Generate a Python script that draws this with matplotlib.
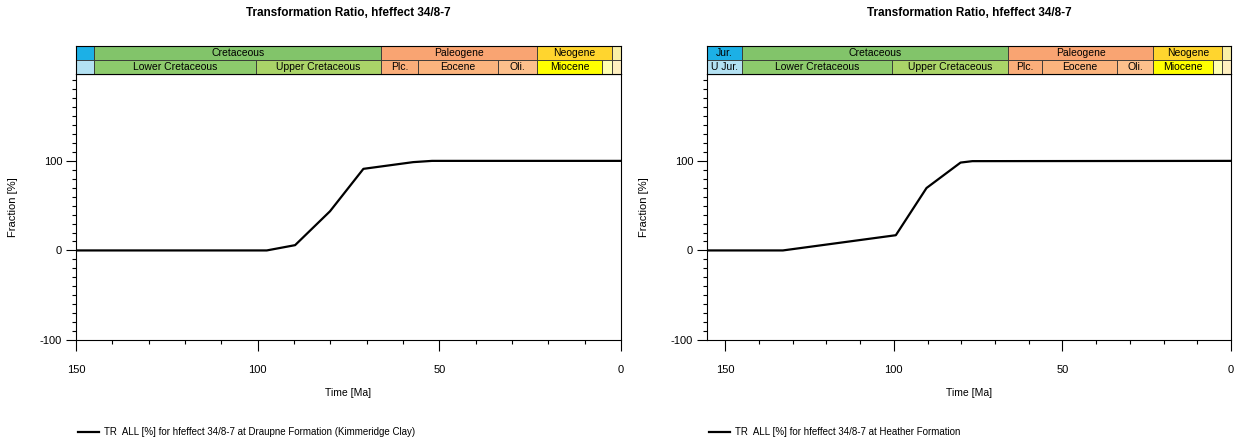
import matplotlib
matplotlib.use("Agg")
import matplotlib.pyplot as plt
from matplotlib.ticker import MultipleLocator, FixedLocator

plt.rcParams['font.family'] = ['Liberation Sans', 'DejaVu Sans']
plt.rcParams['axes.unicode_minus'] = False

# curve data (age in Ma, transformation ratio in %)
left_age = [150, 97.5, 89.7, 80.1, 70.9, 57.2, 52, 0]
left_tr = [0, 0, 5.9, 43.7, 91.1, 98.6, 100, 100]
right_age = [155, 132.9, 99.4, 90.3, 80.2, 76.7, 0]
right_tr = [0, 0, 17, 69.7, 98.1, 99.7, 100]

left_label = "TR  ALL [%] for hfeffect 34/8-7 at Draupne Formation (Kimmeridge Clay)"
right_label = "TR  ALL [%] for hfeffect 34/8-7 at Heather Formation"
title = "Transformation Ratio, hfeffect 34/8-7"

# geological time scale: (name, short name, start, end, color)
periods = [
    ("Jurassic", "Jur.", 201.3, 145.0, "#1CB0E6"),
    ("Cretaceous", "Cretaceous", 145.0, 66.0, "#82C46A"),
    ("Paleogene", "Paleogene", 66.0, 23.03, "#F9A472"),
    ("Neogene", "Neogene", 23.03, 2.58, "#FFD52E"),
    ("Quaternary", "", 2.58, 0.0, "#F9F0A8"),
]
epochs = [
    ("Upper Jurassic", "U Jur.", 163.5, 145.0, "#B3E1F2"),
    ("Lower Cretaceous", "Lower Cretaceous", 145.0, 100.5, "#8DCB6C"),
    ("Upper Cretaceous", "Upper Cretaceous", 100.5, 66.0, "#AAD468"),
    ("Paleocene", "Plc.", 66.0, 56.0, "#FBAE7A"),
    ("Eocene", "Eocene", 56.0, 33.9, "#FBB47E"),
    ("Oligocene", "Oli.", 33.9, 23.03, "#FDC08C"),
    ("Miocene", "Miocene", 23.03, 5.333, "#FFFF00"),
    ("Pliocene", "", 5.333, 2.58, "#FFFFB0"),
    ("Pleistocene", "", 2.58, 0.0, "#FFF0C0"),
]

W, H = 1236, 442
fig = plt.figure(figsize=(W / 100, H / 100), dpi=100)


def make_panel(x0, x1, xmax, age, tr, label, ylab_x):
    top, bot = 74, 340
    ax = fig.add_axes([x0 / W, 1 - bot / H, (x1 - x0) / W, (bot - top) / H])
    ax.plot(age, tr, color="black", lw=1.6, label=label)
    ax.set_xlim(xmax, 0)
    ax.set_ylim(-100, 197)
    ax.xaxis.set_major_locator(FixedLocator([150, 100, 50, 0]))
    ax.xaxis.set_minor_locator(MultipleLocator(10))
    ax.yaxis.set_major_locator(FixedLocator([-100, 0, 100]))
    ax.yaxis.set_minor_locator(MultipleLocator(10))
    ax.tick_params(axis='x', which='major', length=8, width=0.8, pad=10, labelsize=8)
    ax.tick_params(axis='x', which='minor', length=3, width=0.8)
    ax.tick_params(axis='y', which='major', length=7, width=0.8, pad=3, labelsize=8)
    ax.tick_params(axis='y', which='minor', length=3, width=0.8)
    for s in ax.spines.values():
        s.set_linewidth(0.8)
    ax.set_xlabel("Time [Ma]", fontsize=7.5)
    ax.xaxis.set_label_coords(0.5, -0.18)
    ax.set_ylabel("Fraction [%]", fontsize=8)
    ax.yaxis.set_label_coords(ylab_x, 0.5)
    ax.legend(loc="center left", bbox_to_anchor=(0.003, -0.346), frameon=False,
              fontsize=7, handlelength=2.2, borderaxespad=0, borderpad=0,
              handletextpad=0.5)
    fig.text((x0 + x1) / 2 / W, 1 - 13 / H, title, ha="center", va="center",
             fontsize=8.5, fontweight="bold")

    # time scale band
    ts = fig.add_axes([x0 / W, 1 - top / H, (x1 - x0) / W, 28 / H])
    ts.set_xlim(xmax, 0)
    ts.set_ylim(0, 2)
    ts.set_xticks([])
    ts.set_yticks([])
    for s in ts.spines.values():
        s.set_linewidth(0.8)
    for row, items in ((1, periods), (0, epochs)):
        for name, short, start, end, color in items:
            ts.barh(row + 0.5, start - end, left=end, height=1.0, color=color,
                    edgecolor="#333333", linewidth=0.6)
            vis_start = min(start, xmax)
            if vis_start - end >= 8 and short:
                ts.text((vis_start + end) / 2, row + 0.5, short, ha="center",
                        va="center", fontsize=7.5)
    return ax


make_panel(76, 621, 150, left_age, left_tr, left_label, -0.106)
make_panel(707, 1231, 155.4, right_age, right_tr, right_label, -0.111)

fig.savefig("out.png", dpi=100)
